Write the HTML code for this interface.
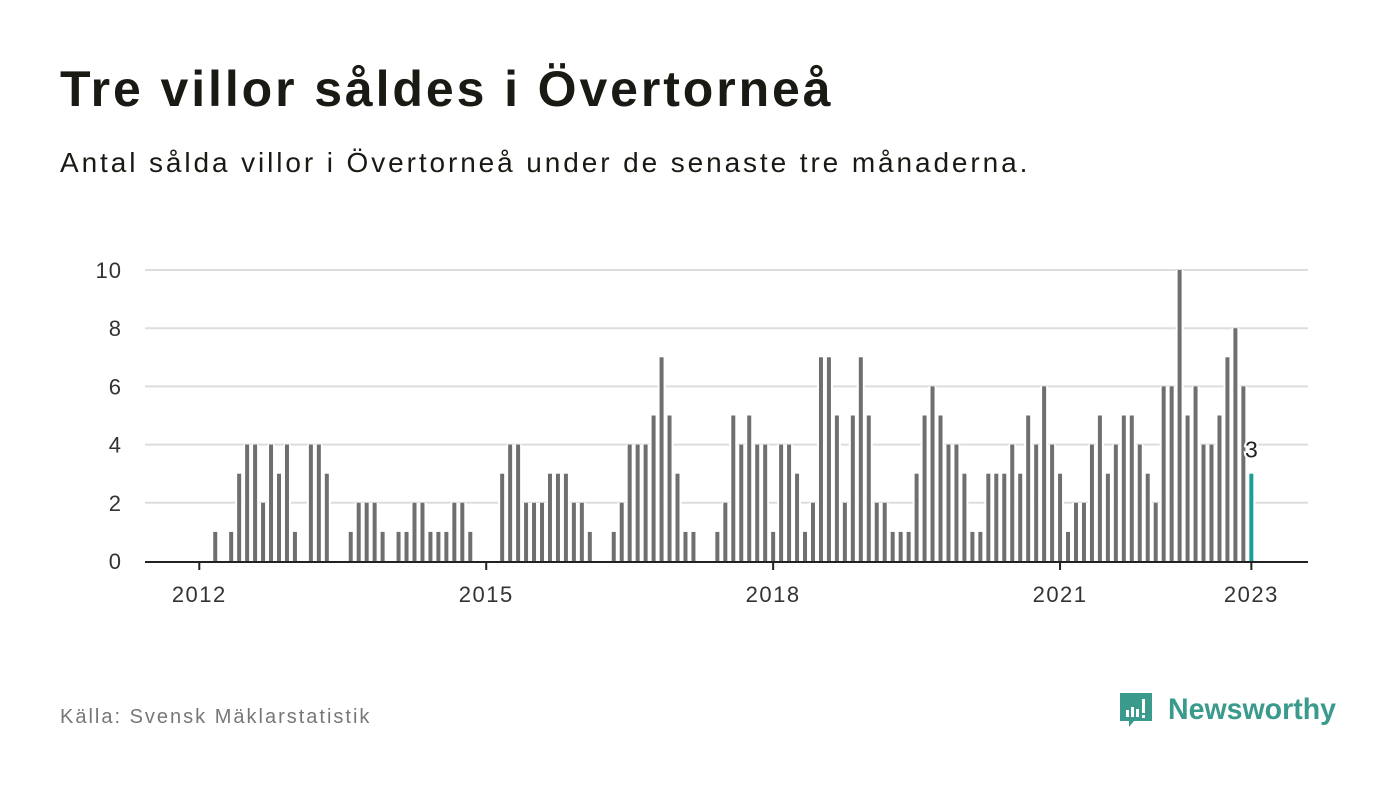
<!DOCTYPE html>
<html><head><meta charset="utf-8"><style>
body{margin:0;width:1400px;height:794px;background:#fff;font-family:"Liberation Sans",sans-serif;overflow:hidden;position:relative}
#title{position:absolute;left:60px;top:60px;font-size:50px;font-weight:bold;color:#1a1a14;margin:0;letter-spacing:2.9px}
#sub{position:absolute;left:60px;top:147px;font-size:28px;color:#1a1a14;letter-spacing:2.9px}
#src{position:absolute;left:60px;top:706px;font-size:20px;color:#777;letter-spacing:2px}
#logo{position:absolute;left:1118px;top:690px}
</style></head><body>
<h1 id="title">Tre villor såldes i Övertorneå</h1>
<div id="sub">Antal sålda villor i Övertorneå under de senaste tre månaderna.</div>
<svg id="chart" width="1400" height="794" style="position:absolute;left:0;top:0"></svg>
<div id="src">Källa: Svensk Mäklarstatistik</div>
<svg id="logo" width="240" height="48">
<path d="M2 3h32v28H16l-5 6v-6H2z" fill="#3a9a8c"/>
<rect x="8" y="20" width="3" height="7" fill="#fff"/><rect x="13" y="17" width="3" height="10" fill="#fff"/><rect x="18" y="19" width="3" height="8" fill="#fff"/><rect x="24" y="9" width="3" height="14" fill="#fff"/><rect x="24" y="25" width="3" height="3" fill="#fff"/>
<text x="50" y="29" font-family="Liberation Sans, sans-serif" font-size="30" font-weight="bold" fill="#3a9a8c" textLength="168" lengthAdjust="spacingAndGlyphs">Newsworthy</text>
</svg>
<script>
const yTicks=[0,2,4,6,8,10];
const xTickYears=[2012,2015,2018,2021,2023];
const startYear=2012;
const values=[0,0,1,0,1,3,4,4,2,4,3,4,1,0,4,4,3,0,0,1,2,2,2,1,0,1,1,2,2,1,1,1,2,2,1,0,0,0,3,4,4,2,2,2,3,3,3,2,2,1,0,0,1,2,4,4,4,5,7,5,3,1,1,0,0,1,2,5,4,5,4,4,1,4,4,3,1,2,7,7,5,2,5,7,5,2,2,1,1,1,3,5,6,5,4,4,3,1,1,3,3,3,4,3,5,4,6,4,3,1,2,2,4,5,3,4,5,5,4,3,2,6,6,10,5,6,4,4,5,7,8,6,3];
const NS="http://www.w3.org/2000/svg";
const svg=document.getElementById('chart');
const x0=199.3,mw=7.97,yb=561,yt=270,ymax=10,left=145,right=1308;
const X=i=>x0+i*mw;
const Y=v=>yb-(v/ymax)*(yb-yt);
function mk(t,a){const e=document.createElementNS(NS,t);for(const k in a)e.setAttribute(k,a[k]);svg.appendChild(e);return e;}
yTicks.forEach(t=>{
 if(t>0){const l=mk('line',{x1:left,x2:right,y1:Y(t),y2:Y(t),stroke:'#ddd','stroke-width':2});
 
 }
 const tx=mk('text',{x:122,y:Y(t)+8,'text-anchor':'end','font-size':22,fill:'#333','letter-spacing':1,'font-family':'Liberation Sans, sans-serif'});
 tx.textContent=t;
 
 
});
values.forEach((v,i)=>{
 if(v<=0)return;
 mk('rect',{x:X(i)-4,y:Y(v),width:8,height:yb-Y(v),fill:'#fff'});
});
values.forEach((v,i)=>{
 if(v<=0)return;
 const last=i===values.length-1;
 const r=mk('rect',{x:X(i)-2,y:Y(v),width:4,height:yb-Y(v),fill:last?'#1a9e96':'#6f6f6f'});
 
 
});
const li=values.length-1;
const lbl=mk('text',{x:X(li),y:Y(values[li])-16,'text-anchor':'middle','font-size':23,fill:'#222',stroke:'#fff','stroke-width':4,'paint-order':'stroke','font-family':'Liberation Sans, sans-serif'});
lbl.textContent=values[li];


const ax=mk('line',{x1:left,x2:right,y1:yb+1,y2:yb+1,stroke:'#222','stroke-width':2});


xTickYears.forEach(yr=>{
 const xi=X((yr-startYear)*12);
 mk('line',{x1:xi,x2:xi,y1:yb+1,y2:yb+9,stroke:'#222','stroke-width':2});
 const t=mk('text',{x:xi,y:602,'text-anchor':'middle','font-size':22,fill:'#333','letter-spacing':1.5,'font-family':'Liberation Sans, sans-serif'});
 t.textContent=yr;
 
 
});
</script>
</body></html>
